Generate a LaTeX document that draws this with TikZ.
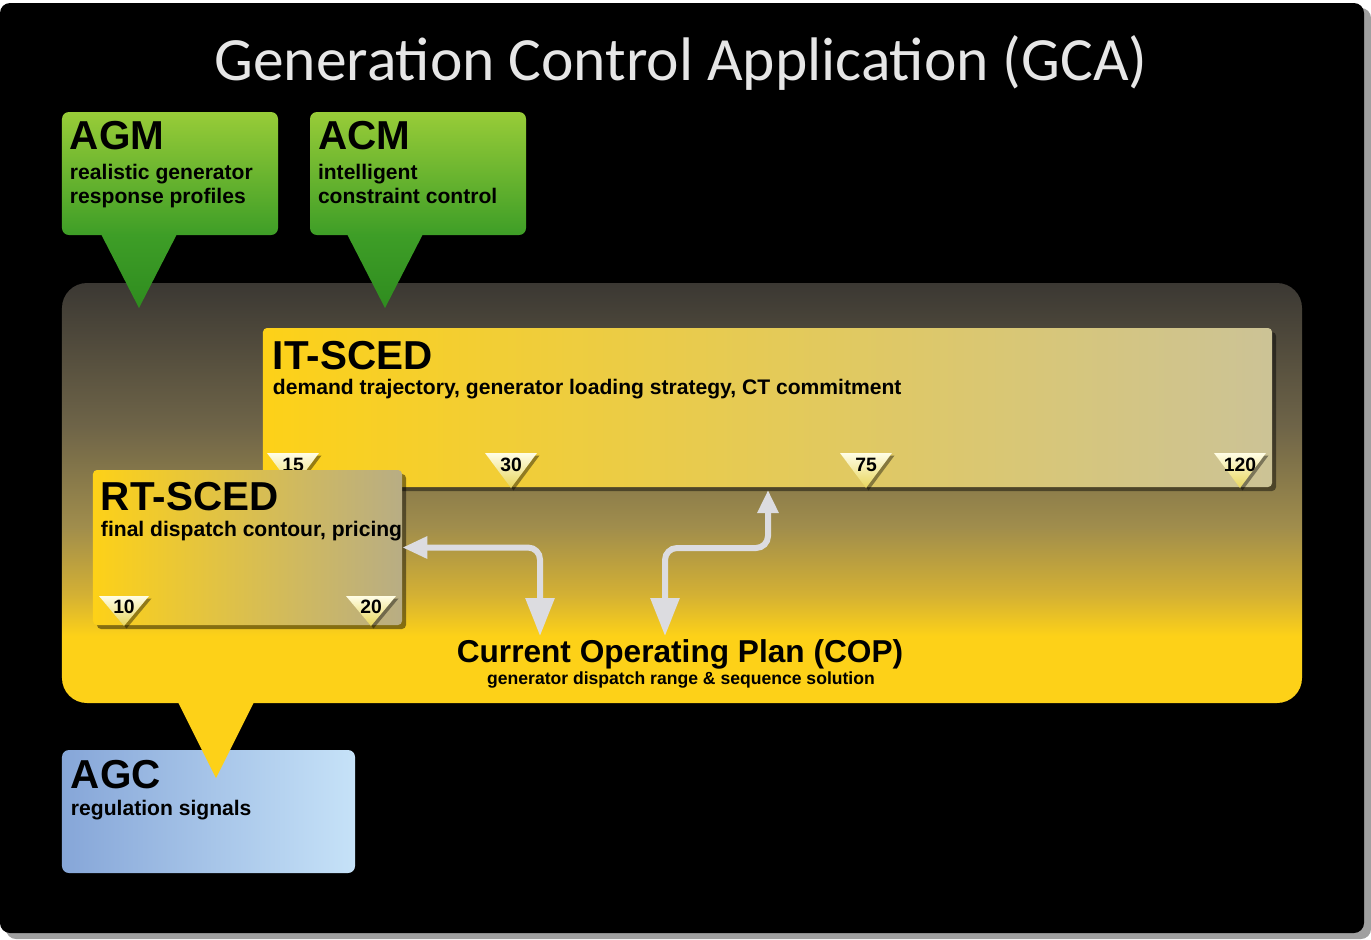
\documentclass[tikz,border=0pt]{standalone}
\usepackage{fontspec}
\setmainfont{Liberation Sans}
\newfontfamily\titlefont{Carlito}
\usetikzlibrary{arrows.meta,shadows}

\definecolor{gcaYellow}{HTML}{FDD118}
\definecolor{gcaMidA}{HTML}{D3B034}
\definecolor{gcaMidB}{HTML}{A08D4C}
\definecolor{gcaMidC}{HTML}{6E6448}
\definecolor{gcaTop}{HTML}{3B3833}
\definecolor{agmLight}{HTML}{98CC38}
\definecolor{agmDark}{HTML}{3E9E27}
\definecolor{tipDark}{HTML}{2F8C1F}
\definecolor{agcLeft}{HTML}{86A6D8}
\definecolor{agcRight}{HTML}{C6E2F8}
\definecolor{itGrey}{HTML}{CCC396}
\definecolor{rtGrey}{HTML}{B8AD84}
\definecolor{markTop}{HTML}{FFFDE6}
\definecolor{markTip}{HTML}{E8D65C}
\definecolor{flowGrey}{HTML}{DCDCE0}
\definecolor{titleWhite}{HTML}{E6E6E6}
\definecolor{frameGrey}{HTML}{A0A0A0}

% background of the GCA panel, dark at the top and yellow at the bottom
\pgfdeclareverticalshading{gcaback}{100bp}{color(0bp)=(gcaYellow); color(25bp)=(gcaYellow);
  color(33bp)=(gcaYellow); color(38bp)=(gcaMidA); color(46bp)=(gcaMidB);
  color(58bp)=(gcaMidC); color(75bp)=(gcaTop); color(100bp)=(gcaTop)}

\begin{document}
\begin{tikzpicture}[x=0.2mm, y=-0.2mm,
    panel/.style={rounded corners=1.4mm, inner sep=0pt,
      drop shadow={fill=black, opacity=0.45, shadow xshift=0.8mm, shadow yshift=-0.8mm}},
    greenbox/.style={panel, top color=agmLight, bottom color=agmDark,
      minimum width=43.2mm, minimum height=24.6mm},  % AGM and ACM
    scedbox/.style={panel, rounded corners=0.8mm},    % IT-SCED and RT-SCED
    head/.style={anchor=base west, inner sep=0pt, font=\fontsize{23}{26}\selectfont\bfseries},
    sub/.style={anchor=north west, inner sep=0pt, align=left,
      font=\fontsize{12}{13.7}\selectfont\bfseries},
    num/.style={anchor=base, inner sep=0pt, font=\fontsize{11}{12}\selectfont\bfseries},
    marker/.style={top color=markTop, bottom color=markTip,
      drop shadow={fill=black, opacity=0.4, shadow xshift=0.5mm, shadow yshift=-0.5mm}},
    flow/.style={draw=flowGrey, line width=1.2mm, rounded corners=2.4mm}
  ]
  \useasboundingbox (0,0) rectangle (1371,939);
  \fill[white] (0,0) rectangle (1371,939);
  \fill[frameGrey, rounded corners=2mm] (6,8) rectangle (1371,939);
  \fill[black, rounded corners=2mm] (0,3) rectangle (1364,933);

  \node[font=\titlefont\fontsize{35}{40}\selectfont, text=titleWhite, anchor=base] (title)
    at (681,80) {Generation Control Application (GCA)};

  % main panel
  \node[rounded corners=5mm, shade, shading=gcaback, inner sep=0pt,
    minimum width=248mm, minimum height=84mm] (gca) at (682,493) {};

  % AGM and ACM
  \node[greenbox] (agm) at (170,173.5) {};
  \path[top color=agmDark, bottom color=tipDark] (101,234) -- (177,234) -- (139,308) -- cycle;
  \node[head] (agm-head) at ([shift={(8,38)}]agm.north west) {AGM};
  \node[sub] (agm-text) at ([shift={(8,52)}]agm.north west) {realistic generator\\response profiles};

  \node[greenbox] (acm) at (418,173.5) {};
  \path[top color=agmDark, bottom color=tipDark] (347,234) -- (423,234) -- (385,308) -- cycle;
  \node[head] (acm-head) at ([shift={(8,38)}]acm.north west) {ACM};
  \node[sub] (acm-text) at ([shift={(8,52)}]acm.north west) {intelligent\\constraint control};

  % IT-SCED with its horizon marks
  \node[scedbox, left color=gcaYellow, middle color=gcaYellow!90!itGrey, right color=itGrey,
    minimum width=201.8mm, minimum height=31.8mm] (itsced) at (767.5,407.5) {};
  \node[head] (it-head) at ([shift={(10,42)}]itsced.north west) {IT-SCED};
  \node[sub] (it-text) at ([shift={(10,51)}]itsced.north west)
    {demand trajectory, generator loading strategy, CT commitment};
  \foreach \x/\n in {293/15, 511/30, 866/75, 1240/120} {
    \path[marker] (\x-26,453) -- (\x+26,453) -- (\x,488) -- cycle;
    \node[num] (it\n) at (\x,471) {\n};
  }

  % RT-SCED with its horizon marks
  \node[scedbox, left color=gcaYellow, middle color=gcaYellow!85!rtGrey, right color=rtGrey,
    minimum width=61.8mm, minimum height=31mm] (rtsced) at (247.5,547.5) {};
  \node[head] (rt-head) at ([shift={(8,41)}]rtsced.north west) {RT-SCED};
  \node[sub] (rt-text) at ([shift={(8,51)}]rtsced.north west) {final dispatch contour, pricing};
  \foreach \x/\n in {124/10, 371/20} {
    \path[marker] (\x-25,596) -- (\x+25,596) -- (\x,626) -- cycle;
    \node[num] (rt\n) at (\x,613) {\n};
  }

  % COP and its links
  \node[font=\fontsize{18}{20}\selectfont\bfseries, anchor=base] (cop) at (680,662)
    {Current Operating Plan (COP)};
  \node[font=\fontsize{10}{12}\selectfont\bfseries, anchor=base] (cop-sub) at (681,684)
    {generator dispatch range \& sequence solution};
  \coordinate (cop-in) at (540,636);
  \coordinate (cop-out) at (665,636);
  \coordinate (it-in) at (768,490);
  \draw[flow, {Triangle[width=4.2mm,length=5mm]}-{Triangle[width=5.6mm,length=7.6mm]}]
    (rtsced.east) -| (cop-in);
  \draw[flow, {Triangle[width=5.6mm,length=7.6mm]}-{Triangle[width=4mm,length=4.6mm]}]
    (cop-out) -- ++(0,-88) -| (it-in);

  % AGC
  \node[panel, left color=agcLeft, right color=agcRight,
    minimum width=58.6mm, minimum height=24.6mm] (agc) at (208.5,811.5) {};
  \node[head] (agc-head) at ([shift={(9,39)}]agc.north west) {AGC};
  \node[sub] (agc-text) at ([shift={(9,50)}]agc.north west) {regulation signals};
  \fill[gcaYellow] (178,702) -- (254,702) -- (216,778) -- cycle;
\end{tikzpicture}
\end{document}
